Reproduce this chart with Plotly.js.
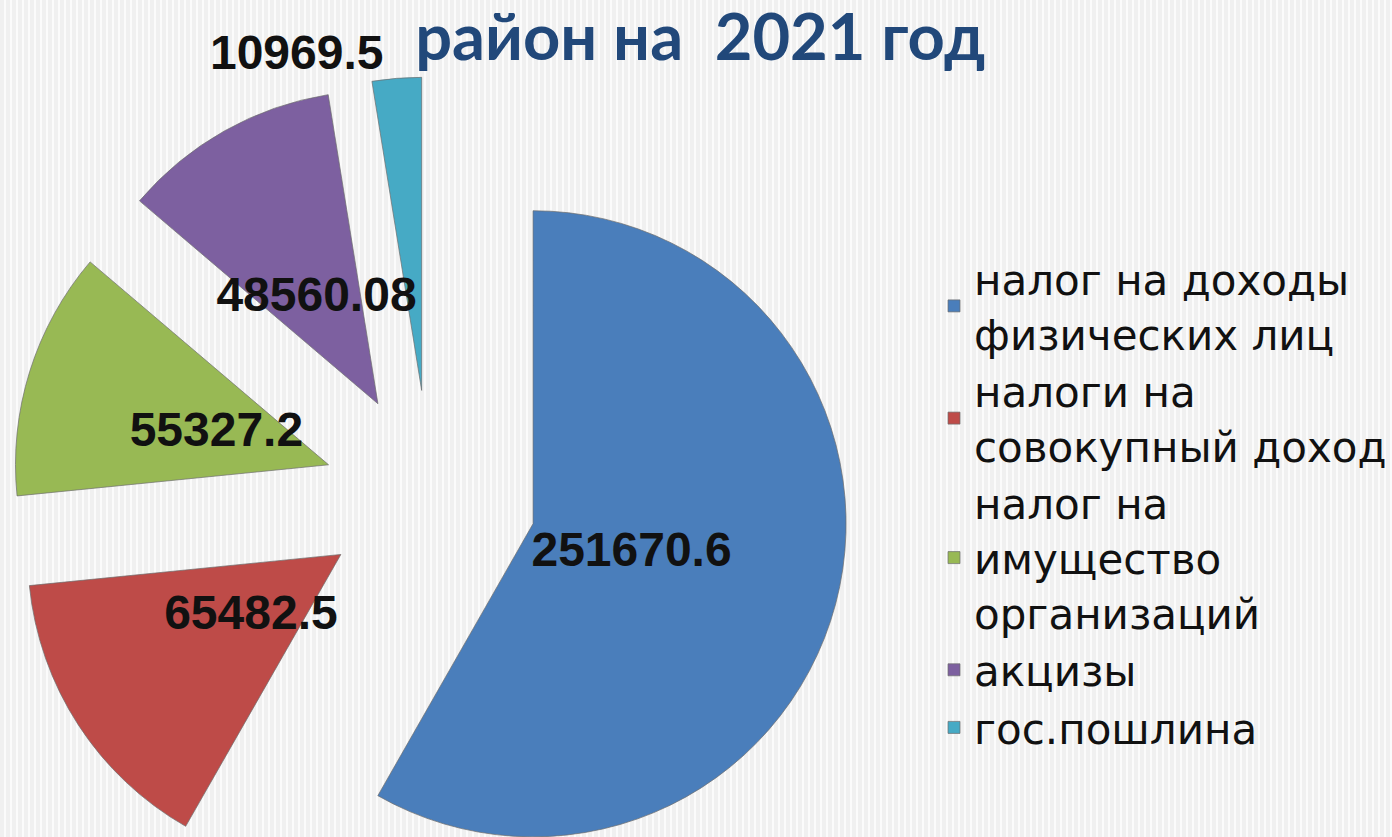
<!DOCTYPE html>
<html>
<head>
<meta charset="utf-8">
<script src="https://cdn.plot.ly/plotly-3.0.1.min.js"></script>
<style>
  html, body { margin: 0; padding: 0; overflow: hidden; }
  body {
    width: 1392px; height: 837px;
    background: repeating-linear-gradient(90deg, #f0f0f0 0px, #f0f0f0 4px, #fbfbfb 4px, #fbfbfb 6px);
  }
  #chart { width: 1392px; height: 930px; }
</style>
</head>
<body>
<div id="chart"></div>
<script>
// налоговые доходы, 2021 год
const categories = [
    'налог на доходы<br>физических лиц',
    'налоги на<br>совокупный доход',
    'налог на<br>имущество<br>организаций',
    'акцизы',
    'гос.пошлина'
];
const amounts = [251670.6, 65482.5, 55327.2, 48560.08, 10969.5];
const sliceColors = ['#4a7ebb', '#be4b48', '#98b954', '#7d60a0', '#46aac5'];

const labelFont = { family: 'Liberation Sans, Arial, sans-serif', size: 48, color: '#111111', weight: 'bold' };

// the exploded pie itself; only the small slice gets its label outside here
const pieTrace = {
    type: 'pie',
    labels: categories,
    values: amounts,
    text: amounts.map((v, i) => i === 4 ? String(v) : ''),
    textinfo: 'text',
    textposition: ['none', 'none', 'none', 'none', 'outside'],
    textfont: labelFont,
    sort: false,
    direction: 'clockwise',
    rotation: 0,
    pull: 0.34,
    marker: { colors: sliceColors, line: { color: 'rgba(110,110,110,0.7)', width: 1 } },
    domain: { x: [0, 0.6207], y: [0, 1] },
    hoverinfo: 'label+value'
};

// transparent copy, only used to put the inside labels closer to the middle (like Excel does)
const labelTrace = {
    type: 'pie',
    labels: categories,
    values: amounts,
    text: amounts.map(v => String(v)),
    textinfo: 'text',
    textposition: ['inside', 'inside', 'inside', 'inside', 'none'],
    insidetextorientation: 'horizontal',
    textfont: labelFont,
    sort: false,
    direction: 'clockwise',
    rotation: 0,
    pull: [0.17, 0, 0, 0, 0],
    marker: { colors: amounts.map(() => 'rgba(0,0,0,0)'), line: { width: 0 } },
    domain: { x: [0.0474, 0.573], y: [0.0644, 0.9368] },
    showlegend: false,
    hoverinfo: 'skip'
};

const layout = {
    width: 1392,
    height: 930,
    margin: { l: 0, r: 0, t: 77, b: 14 },
    paper_bgcolor: 'rgba(0,0,0,0)',
    plot_bgcolor: 'rgba(0,0,0,0)',
    uniformtext: { mode: 'show', minsize: 48 },
    title: {
        text: 'район на  2021 год',
        font: { family: 'Lato, sans-serif', size: 65, color: '#21487a', weight: 'bold' },
        x: 0.503, xanchor: 'center',
        yref: 'container', y: 1 - 37 / 930, yanchor: 'middle'
    },
    showlegend: true,
    legend: {
        x: 0.674, xanchor: 'left',
        y: 0.800, yanchor: 'top',
        bgcolor: 'rgba(0,0,0,0)',
        font: { family: 'DejaVu Sans, sans-serif', size: 42, color: '#111111' },
        tracegroupgap: 0
    }
};

Plotly.newPlot('chart', [pieTrace, labelTrace], layout, { displayModeBar: false, staticPlot: true });
</script>
</body>
</html>
